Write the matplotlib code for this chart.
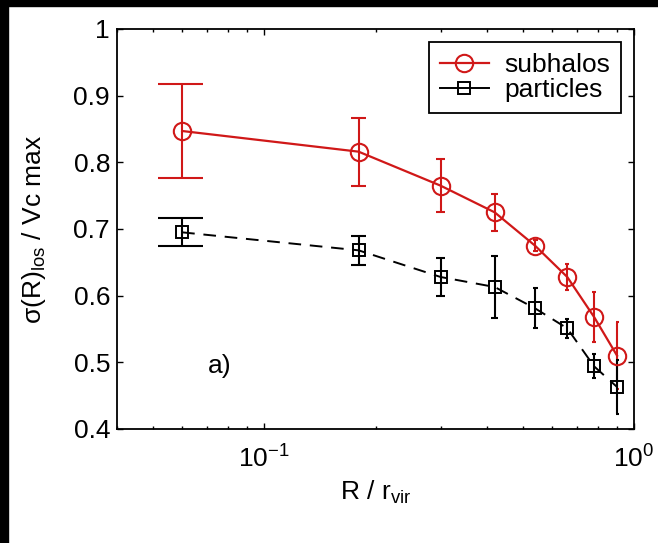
import numpy as np
import matplotlib
matplotlib.use("Agg")
import matplotlib.pyplot as plt
from matplotlib.patches import Rectangle
from matplotlib.ticker import LogLocator, LogFormatterMathtext, NullFormatter, FixedLocator

plt.rcParams["font.family"] = ["Liberation Sans", "DejaVu Sans"]
plt.rcParams["mathtext.fontset"] = "custom"
plt.rcParams["mathtext.rm"] = "Liberation Sans"
plt.rcParams["mathtext.it"] = "Liberation Sans:italic"
plt.rcParams["mathtext.bf"] = "Liberation Sans:bold"

# projected radius bins (R / r_vir)
r_bins = [0.06, 0.18, 0.30, 0.42, 0.54, 0.66, 0.78, 0.90]

# line-of-sight velocity dispersion in units of Vc max
sub_sigma = [0.847, 0.816, 0.765, 0.725, 0.675, 0.628, 0.568, 0.510]
sub_err = [0.070, 0.051, 0.040, 0.028, 0.008, 0.020, 0.037, 0.050]
part_sigma = [0.695, 0.668, 0.628, 0.613, 0.581, 0.551, 0.494, 0.463]
part_err = [0.021, 0.022, 0.029, 0.047, 0.030, 0.014, 0.018, 0.040]

y_ticks = [0.4, 0.5, 0.6, 0.7, 0.8, 0.9, 1.0]
y_tick_labels = ["0.4", "0.5", "0.6", "0.7", "0.8", "0.9", "1"]

RED = "#d01818"
FS = 19

fig = plt.figure(figsize=(6.58, 5.43), dpi=100)
ax = fig.add_axes([117 / 658, 1 - 429 / 543, 517 / 658, 400 / 543])


def error_bars(ax, x, y, e, color):
    x = np.asarray(x)
    y = np.asarray(y)
    e = np.asarray(e)
    tee = (x.max() - x.min()) / 100.0
    kw = dict(color=color, lw=1.5, zorder=2)
    ax.vlines(x, y - e, y + e, **kw)
    ax.hlines(y + e, x - tee, x + tee, **kw)
    ax.hlines(y - e, x - tee, x + tee, **kw)


error_bars(ax, r_bins, sub_sigma, sub_err, RED)
error_bars(ax, r_bins, part_sigma, part_err, "black")

ax.plot(r_bins, sub_sigma, "-", color=RED, lw=1.6, marker="o", ms=12.5,
        mfc="none", mec=RED, mew=1.5, label="subhalos", zorder=3)
ax.plot(r_bins, part_sigma, color="black", lw=1.4, ls=(0, (6.5, 4.5)),
        marker="s", ms=9, mfc="none", mec="black", mew=1.4,
        label="particles", zorder=3)

ax.set_xscale("log")
ax.set_xlim(0.04, 1.0)
ax.set_ylim(0.4, 1.0)

ax.xaxis.set_major_locator(LogLocator(base=10))
ax.xaxis.set_major_formatter(LogFormatterMathtext())
ax.xaxis.set_minor_locator(LogLocator(base=10, subs=np.arange(2, 10)))
ax.xaxis.set_minor_formatter(NullFormatter())
ax.yaxis.set_major_locator(FixedLocator(y_ticks))
ax.set_yticklabels(y_tick_labels)

ax.tick_params(which="both", direction="in", top=True, right=True,
               labelsize=FS, width=1.0)
ax.tick_params(which="major", length=4.5)
ax.tick_params(axis="x", which="major", pad=12)
ax.tick_params(axis="y", which="major", pad=5)
ax.tick_params(which="minor", length=2.5)
for s in ax.spines.values():
    s.set_linewidth(1.3)

ax.set_xlabel(r"R / r$_{\mathrm{vir}}$", fontsize=FS, labelpad=4)
ax.set_ylabel(r"σ(R)$_{\mathrm{los}}$ / Vc max", fontsize=FS)
ax.yaxis.set_label_coords(-0.133, 0.5)

ax.text(0.0705, 0.495, "a)", fontsize=FS, ha="left", va="center")

leg = ax.legend(loc="upper right", fontsize=FS, handlelength=1.85,
                handletextpad=0.6, borderpad=0.4, labelspacing=0.05,
                borderaxespad=0.5, fancybox=False, framealpha=1,
                edgecolor="black")
leg.get_frame().set_linewidth(1.3)
# the legend sample for the dashed series is drawn as a short solid stroke
leg.get_lines()[1].set_linestyle("-")

# dark scan margins along the left and top edges
fig.patches.append(Rectangle((0, 0), 8 / 658, 1, transform=fig.transFigure,
                             color="black", zorder=10))
fig.patches.append(Rectangle((0, 1 - 6 / 543), 1, 6 / 543,
                             transform=fig.transFigure, color="black",
                             zorder=10))

fig.savefig("out.png", dpi=100)
